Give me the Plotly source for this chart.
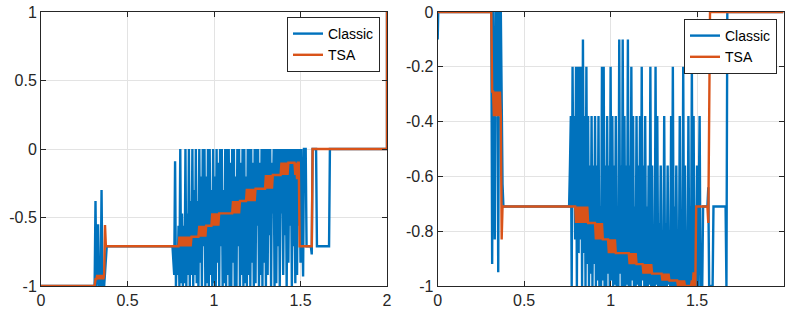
import plotly.graph_objects as go

DT = 0.005  # sample period of the dense parts

# ---------------- Left panel (component 1) ----------------
classic1_head_t = [0.0, 0.305]
classic1_head_v = [-1.0, -1.0]
burst_t0 = 0.310
classic1_burst_v = [-1, -0.38, -1, -0.92, -0.55, -1, -0.92, -1, -0.30, -1, -0.92, -1, -0.92, -0.77, -0.71]
dense_t0 = 0.760
classic1_dense_v = [
    -0.71, -0.83, -0.92, -0.09, -1, -0.71, -0.92, -0.56, -1, 0,
    -0.98, -0.47, -1, -0.56, -0.98, 0, -1, -0.47, -0.92, 0,
    -1, -0.38, -0.92, 0, -1, -0.30, -0.92, 0, -0.98, -0.38,
    -1, 0, -0.83, -0.20, -1, 0, -0.71, 0, -1, -0.20,
    -0.98, 0, -1, 0, -0.92, -0.30, -1, 0, -0.98, -0.20,
    -1, 0, -0.83, -0.10, -1, 0, -0.71, 0, -1, -0.30,
    -0.98, 0, -1, 0, -0.92, 0, -1, -0.10, -1, 0,
    -0.83, 0, -1, -0.20, -1, 0, -0.71, 0, -1, -0.10,
    -0.92, 0, -1, 0, -0.98, -0.20, -1, 0, -0.92, 0,
    -1, 0, -0.83, -0.10, -1, 0, -0.98, 0, -0.56, 0,
    -1, -0.10, -0.92, 0, -1, 0, -0.83, 0, -1, 0,
    -0.92, 0, -0.63, 0, -1, -0.10, -0.47, 0, -1, 0,
    -0.98, 0, -0.71, 0, -1, 0, -0.47, 0, -0.92, 0,
    -0.63, 0, -1, 0, -0.83, 0, -0.56, 0, -1, 0,
    -0.71, 0, -0.98, 0, -0.92, 0, -0.56, 0, -0.83,
]
classic1_tail_t = [1.505, 1.515, 1.52, 1.53, 1.535, 1.56, 1.565, 1.57, 1.59, 1.595, 1.665, 1.67, 2.0, 2.0]
classic1_tail_v = [0, -0.93, 0, 0, -0.71, -0.71, -0.77, 0, 0, -0.71, -0.71, 0, 0, 1]

tsa1_head_t = [0.0, 0.305]
tsa1_head_v = [-1.0, -1.0]
tsa1_burst_v = [-1, -0.95, -0.95, -0.92, -0.95, -0.92, -0.95, -0.92, -0.95, -0.92, -0.95, -0.92, -0.555, -0.71, -0.71]
tsa1_dense_v = [
    -0.71, -0.71, -0.71, -0.71, -0.71, -0.71, -0.71, -0.71, -0.64,
    -0.71, -0.64, -0.71, -0.64, -0.71, -0.64, -0.71, -0.64, -0.71, -0.64, -0.71, -0.64, -0.71, -0.64,
    -0.64, -0.64, -0.64, -0.64, -0.64, -0.64, -0.64, -0.64,
    -0.56, -0.64, -0.56, -0.64, -0.56, -0.64, -0.56, -0.64, -0.56,
    -0.56, -0.56, -0.56, -0.56, -0.56, -0.56,
    -0.47, -0.56, -0.47, -0.56, -0.47, -0.56, -0.47, -0.56, -0.47,
    -0.47, -0.47, -0.47, -0.47, -0.47, -0.47, -0.47, -0.47, -0.47, -0.47, -0.47, -0.47, -0.47, -0.47, -0.47,
    -0.38, -0.47, -0.38, -0.47, -0.38, -0.47, -0.38, -0.47, -0.38,
    -0.38, -0.38, -0.38, -0.38, -0.38, -0.38, -0.38,
    -0.29, -0.38, -0.29, -0.38, -0.29, -0.38, -0.29, -0.38, -0.29, -0.38,
    -0.29, -0.29, -0.29, -0.29, -0.29, -0.29, -0.29, -0.29, -0.29, -0.29, -0.29, -0.29,
    -0.19, -0.29, -0.19, -0.29, -0.19, -0.29, -0.19, -0.29,
    -0.19, -0.19, -0.19, -0.19, -0.19, -0.19, -0.19, -0.19, -0.19, -0.19,
    -0.10, -0.19, -0.10, -0.19, -0.10, -0.19, -0.10, -0.19,
    -0.10, -0.10, -0.10, -0.10, -0.10, -0.10, -0.10, -0.10,
    -0.19, -0.10, -0.22, -0.10, -0.10,
    -0.71, -0.71,
]
tsa1_tail_t = [1.565, 1.57, 2.0, 2.0]
tsa1_tail_v = [-0.71, 0, 0, 1]

# ---------------- Right panel (component 2) ----------------
classic2_head_t = [0.0, 0.003, 0.305]
classic2_head_v = [-0.1, 0.0, 0.0]
classic2_burst_v = [0, -0.92, 0, -0.38, -0.83, 0, -0.38, 0, -0.95, 0, -0.38, 0, -0.38, -0.63, -0.71]
classic2_dense_v = [
    -0.71, -0.56, -0.38, -1.00, -0.20, -0.71, -0.38, -0.83, -0.20, -1.00,
    -0.20, -0.88, -0.20, -0.83, -0.20, -1.00, -0.10, -0.88, -0.38, -1.00,
    -0.20, -0.92, -0.38, -1.00, -0.56, -0.955, -0.38, -1.00, -0.56, -0.92,
    -0.38, -1.00, -0.56, -0.98, -0.38, -1.00, -0.71, -1.00, -0.20, -0.98,
    -0.20, -1.00, -0.56, -1.00, -0.38, -0.955, -0.56, -1.00, -0.20, -0.98,
    -0.38, -1.00, -0.56, -0.995, -0.38, -1.00, -0.71, -1.00, -0.10, -0.955,
    -0.56, -1.00, -0.10, -1.00, -0.38, -1.00, -0.56, -0.995, -0.10, -1.00,
    -0.56, -1.00, -0.20, -0.98, -0.38, -1.00, -0.71, -1.00, -0.38, -0.995,
    -0.56, -1.00, -0.38, -1.00, -0.20, -0.98, -0.56, -1.00, -0.38, -1.00,
    -0.71, -1.00, -0.56, -0.995, -0.20, -1.00, -0.56, -1.00, -0.83, -1.00,
    -0.20, -0.995, -0.38, -1.00, -0.77, -1.00, -0.56, -1.00, -0.83, -1.00,
    -0.38, -1.00, -0.77, -1.00, -0.56, -0.995, -0.88, -1.00, -0.38, -1.00,
    -0.20, -1.00, -0.71, -1.00, -0.56, -1.00, -0.88, -1.00, -0.38, -1.00,
    -0.77, -1.00, -0.20, -1.00, -0.56, -1.00, -0.83, -1.00, -0.38, -1.00,
    -0.71, -1.00, -0.20, -1.00, -0.38, -1.00, -0.83, -1.00, -0.56,
]
classic2_tail_t = [1.505, 1.515, 1.52, 1.53, 1.535, 1.56, 1.565, 1.57, 1.59, 1.595, 1.665, 1.67, 1.675, 2.0]
classic2_tail_v = [-1, -0.38, -1, -1, -0.71, -0.71, -0.64, -1, -1, -0.71, -0.71, -1, 0, 0]

tsa2_head_t = [0.0, 0.305]
tsa2_head_v = [0.0, 0.0]
tsa2_burst_v = [0, -0.29, -0.29, -0.38, -0.29, -0.38, -0.29, -0.38, -0.29, -0.38, -0.29, -0.38, -0.83, -0.71, -0.71]
tsa2_dense_v = [
    -0.71, -0.71, -0.71, -0.71, -0.71, -0.71, -0.71, -0.71, -0.77,
    -0.71, -0.77, -0.71, -0.77, -0.71, -0.77, -0.71, -0.77, -0.71, -0.77, -0.71, -0.77, -0.71, -0.77,
    -0.77, -0.77, -0.77, -0.77, -0.77, -0.77, -0.77, -0.77,
    -0.83, -0.77, -0.83, -0.77, -0.83, -0.77, -0.83, -0.77, -0.83,
    -0.83, -0.83, -0.83, -0.83, -0.83, -0.83,
    -0.88, -0.83, -0.88, -0.83, -0.88, -0.83, -0.88, -0.83, -0.88,
    -0.88, -0.88, -0.88, -0.88, -0.88, -0.88, -0.88, -0.88, -0.88, -0.88, -0.88, -0.88, -0.88, -0.88, -0.88,
    -0.92, -0.88, -0.92, -0.88, -0.92, -0.88, -0.92, -0.88, -0.92,
    -0.92, -0.92, -0.92, -0.92, -0.92, -0.92, -0.92,
    -0.955, -0.92, -0.955, -0.92, -0.955, -0.92, -0.955, -0.92, -0.955, -0.92,
    -0.955, -0.955, -0.955, -0.955, -0.955, -0.955, -0.955, -0.955, -0.955, -0.955, -0.955, -0.955,
    -0.98, -0.955, -0.98, -0.955, -0.98, -0.955, -0.98, -0.955,
    -0.98, -0.98, -0.98, -0.98, -0.98, -0.98, -0.98, -0.98, -0.98, -0.98,
    -1.0, -0.98, -1.0, -0.98, -1.0, -0.98, -1.0, -0.98,
    -1.0, -1.0, -1.0, -1.0, -1.0, -1.0, -1.0, -1.0,
    -0.98, -1.0, -0.95, -1.0, -1.0,
    -0.71, -0.71,
]
tsa2_tail_t = [1.56, 1.565, 1.575, 2.0]
tsa2_tail_v = [-0.71, -0.77, 0, 0]

x_ticks = [0, 0.5, 1, 1.5, 2]
x_tick_text = ["0", "0.5", "1", "1.5", "2"]
y1_ticks = [-1, -0.5, 0, 0.5, 1]
y1_tick_text = ["-1", "-0.5", "0", "0.5", "1"]
y2_ticks = [-1, -0.8, -0.6, -0.4, -0.2, 0]
y2_tick_text = ["-1", "-0.8", "-0.6", "-0.4", "-0.2", "0"]

BLUE = "#0072BD"
ORANGE = "#D95319"
AXC = "#262626"
FONT = "Liberation Sans, Arial, sans-serif"
LW = 2.4


def assemble(head_t, head_v, burst_v, dense_v, tail_t, tail_v):
    xs = list(head_t)
    ys = list(head_v)
    xs += [round(burst_t0 + DT * i, 4) for i in range(len(burst_v))]
    ys += list(burst_v)
    xs += [round(dense_t0 + DT * i, 4) for i in range(len(dense_v))]
    ys += list(dense_v)
    xs += list(tail_t)
    ys += list(tail_v)
    return xs, ys


c1x, c1y = assemble(classic1_head_t, classic1_head_v, classic1_burst_v, classic1_dense_v, classic1_tail_t, classic1_tail_v)
t1x, t1y = assemble(tsa1_head_t, tsa1_head_v, tsa1_burst_v, tsa1_dense_v, tsa1_tail_t, tsa1_tail_v)
c2x, c2y = assemble(classic2_head_t, classic2_head_v, classic2_burst_v, classic2_dense_v, classic2_tail_t, classic2_tail_v)
t2x, t2y = assemble(tsa2_head_t, tsa2_head_v, tsa2_burst_v, tsa2_dense_v, tsa2_tail_t, tsa2_tail_v)

fig = go.Figure()
fig.add_trace(go.Scatter(x=c1x, y=c1y, mode="lines", name="Classic", line=dict(color=BLUE, width=LW),
                         xaxis="x", yaxis="y", legend="legend"))
fig.add_trace(go.Scatter(x=t1x, y=t1y, mode="lines", name="TSA", line=dict(color=ORANGE, width=LW),
                         xaxis="x", yaxis="y", legend="legend"))
fig.add_trace(go.Scatter(x=c2x, y=c2y, mode="lines", name="Classic", line=dict(color=BLUE, width=LW),
                         xaxis="x2", yaxis="y2", legend="legend2"))
fig.add_trace(go.Scatter(x=t2x, y=t2y, mode="lines", name="TSA", line=dict(color=ORANGE, width=LW),
                         xaxis="x2", yaxis="y2", legend="legend2"))

W, H = 785, 312
ydom = [1 - 286 / H, 1 - 12 / H]
axis_common = dict(showline=True, mirror="ticks", linecolor=AXC, linewidth=1, ticks="inside", ticklen=5,
                   tickcolor=AXC, showgrid=True, gridcolor="#e3e3e3", gridwidth=1, zeroline=False,
                   automargin=False, tickfont=dict(family=FONT, size=16, color=AXC))

leg_common = dict(bgcolor="white", bordercolor=AXC, borderwidth=1, font=dict(family=FONT, size=14, color="#000000"),
                  xanchor="right", yanchor="top", tracegroupgap=0, itemwidth=30)

fig.update_layout(
    width=W, height=H, margin=dict(l=0, r=0, t=0, b=0, autoexpand=False),
    paper_bgcolor="white", plot_bgcolor="white",
    showlegend=True,
    xaxis=dict(domain=[41 / W, 387 / W], range=[0, 2], tickvals=x_ticks, ticktext=x_tick_text, anchor="y", **axis_common),
    yaxis=dict(domain=ydom, range=[-1, 1], tickvals=y1_ticks, ticktext=y1_tick_text, anchor="x", **axis_common),
    xaxis2=dict(domain=[437.7 / W, 783.5 / W], range=[0, 2], tickvals=x_ticks, ticktext=x_tick_text, anchor="y2", **axis_common),
    yaxis2=dict(domain=ydom, range=[-1, 0], tickvals=y2_ticks, ticktext=y2_tick_text, anchor="x2", **axis_common),
    legend=dict(x=380 / W, y=1 - 17 / H, **leg_common),
    legend2=dict(x=777 / W, y=1 - 19 / H, **leg_common),
)

fig.write_html("out.html", config={"displayModeBar": False},
               post_script="document.body.style.margin='0';document.body.style.padding='0';")
